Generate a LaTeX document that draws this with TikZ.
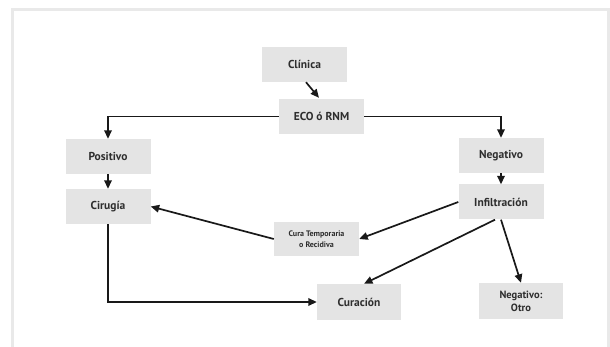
\documentclass[tikz,border=0pt]{standalone}
\usepackage{fontspec}
\setmainfont{PT Sans}
\usetikzlibrary{arrows.meta}
\definecolor{boxgray}{HTML}{E4E4E4}
\definecolor{txt}{HTML}{2E2E2E}
\definecolor{framegray}{HTML}{E9E9E9}
\tikzset{
  box/.style={fill=boxgray, draw=none, minimum width=85pt, minimum height=35pt, inner sep=1pt,
    font=\bfseries\fontsize{11.5}{13}\selectfont, text=txt, align=center},
  smallbox/.style={box, font=\bfseries\fontsize{8}{11}\selectfont},
  arr/.style={line width=1.7pt, draw=black!90, -{Triangle[length=8.5pt,width=7.5pt]}},
}
\begin{document}
\begin{tikzpicture}[x=1pt,y=-1pt]
\useasboundingbox (0,0) rectangle (610,347);
\fill[white] (0,0) rectangle (610,347);
\draw[framegray, line width=3pt] (12.5,360) -- (12.5,9.5) -- (608.5,9.5) -- (608.5,360);
\node[box] (clinica) at (304.5,64.5) {Clínica};
\node[box] (eco) at (321.5,116.5) {ECO ó RNM};
\node[box] (pos) at (108,156.5) {Positivo};
\node[box] (cir) at (108,206.5) {Cirugía};
\node[box] (neg) at (501,155.5) {Negativo};
\node[box] (inf) at (501,202) {Infiltración};
\node[smallbox, minimum height=34pt] (cura) at (316.5,239) {Cura Temporaria\\o Recidiva};
\node[box, minimum width=84pt, minimum height=36pt] (cur) at (359,302) {Curación};
\node[box, minimum width=84pt, minimum height=36pt, font=\bfseries\fontsize{10.5}{13}\selectfont] (nego) at (521,301) {Negativo:\\Otro};
\draw[arr] ([xshift=1.5pt]clinica.south) -- ([xshift=-2.5pt,yshift=1pt]eco.north);
\draw[arr] (eco.west) -| (pos.north);
\draw[arr] (eco.east) -| (neg.north);
\draw[arr] (pos.south) -- (cir.north);
\draw[arr] (neg.south) -- (inf.north);
\draw[arr] (inf.west) -- (cura.east);
\draw[arr] (cura.west) -- (cir.east);
\draw[arr] ([xshift=-6pt]inf.south) -- ([xshift=5pt]cur.north);
\draw[arr] (inf.south) -- (nego.north);
\draw[arr] (cir.south) |- (cur.west);
\end{tikzpicture}
\end{document}
